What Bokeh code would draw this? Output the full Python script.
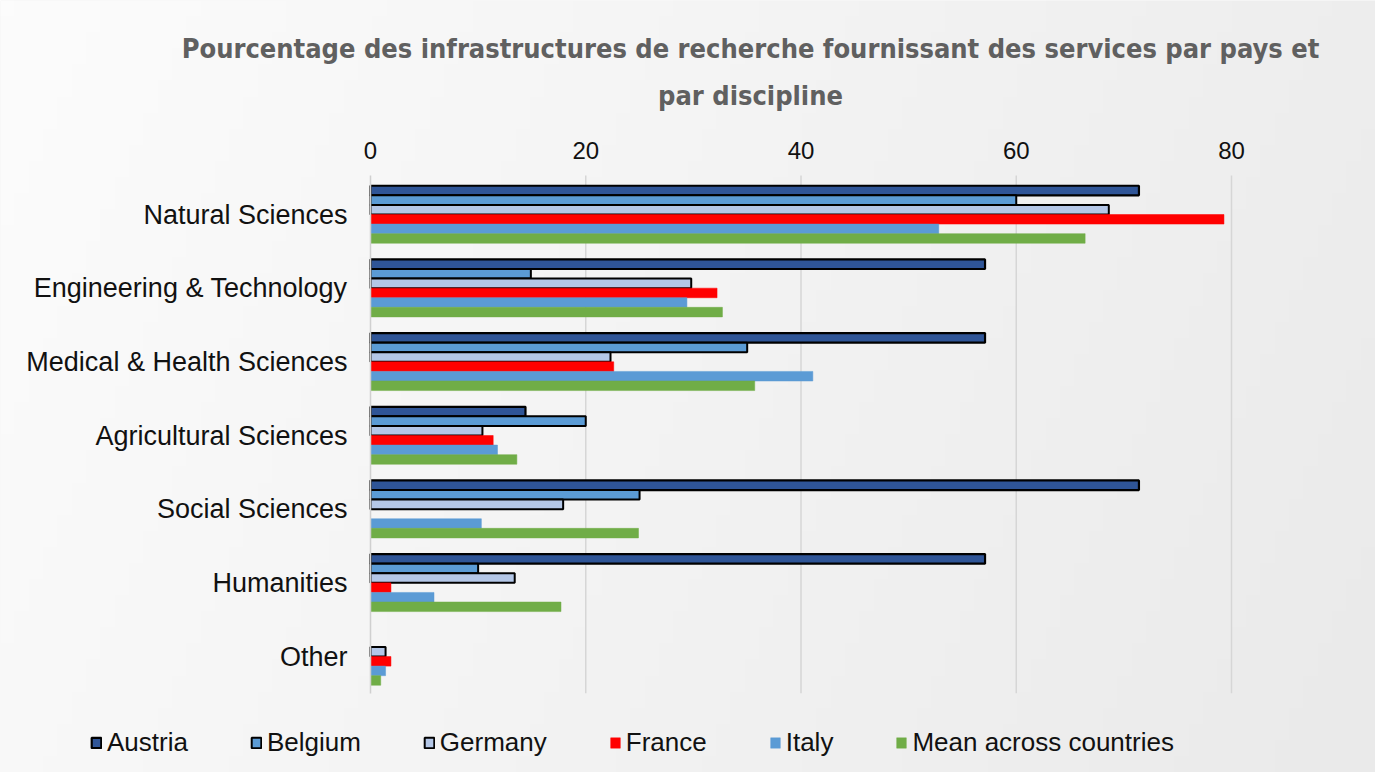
import numpy as np
from bokeh.plotting import figure
from bokeh.models import (ColumnDataSource, Range1d, FixedTicker,
                          Legend, LegendItem, Label)
from bokeh.transform import dodge
from bokeh.embed import file_html
from bokeh.resources import INLINE

# ---- data ----
categories = ["Natural Sciences", "Engineering & Technology", "Medical & Health Sciences",
              "Agricultural Sciences", "Social Sciences", "Humanities", "Other"]
austria = [71.4, 57.1, 57.1, 14.4, 71.4, 57.1, None]
belgium = [60.0, 14.9, 35.0, 20.0, 25.0, 10.0, None]
germany = [68.6, 29.8, 22.3, 10.4, 17.9, 13.4, 1.4]
france = [79.3, 32.2, 22.6, 11.4, None, 1.9, 1.9]
italy = [52.8, 29.4, 41.1, 11.8, 10.3, 5.9, 1.4]
mean_all = [66.4, 32.7, 35.7, 13.6, 24.9, 17.7, 0.95]
series_names = ["Austria", "Belgium", "Germany", "France", "Italy", "Mean across countries"]
x_ticks = [0, 20, 40, 60, 80]
title_lines = ["Pourcentage des infrastructures de recherche fournissant des services par pays et",
               "par discipline"]

series_values = [austria, belgium, germany, france, italy, mean_all]
colors = ["#2F5597", "#5B9BD5", "#B4C7E7", "#FF0000", "#5B9BD5", "#70AD47"]
outlines = ["black", "black", "black", None, None, None]
outline_w = [2.2, 2.0, 2.0, 0, 0, 0]

BG = "#f2f2f2"
BG_LIGHT, BG_DARK = 252, 234     # grey levels of the background gradient
LABEL_FONT = "'Liberation Sans', Arial, sans-serif"
W, H = 1375, 772
X0_PX, PX_PER_X = 370.0, 861.0 / 80.0      # x=0 position and scale
Y0_PX, PX_PER_CAT = 214.0, 73.67           # first category centre and spacing

n_cat = len(categories)
idx = list(range(n_cat))
data = {"idx": idx}
keys = ["s%d" % i for i in range(len(series_names))]
for k, v in zip(keys, series_values):
    data[k] = [float("nan") if x is None else x for x in v]
source = ColumnDataSource(data)

x_range = Range1d(-X0_PX / PX_PER_X, (W - X0_PX) / PX_PER_X)
y_range = Range1d((H - Y0_PX) / PX_PER_CAT, -Y0_PX / PX_PER_CAT)   # reversed: first category on top

p = figure(width=W, height=H, x_range=x_range, y_range=y_range,
           x_axis_location="above",
           output_backend="svg", toolbar_location=None, title=None,
           min_border_left=0, min_border_right=0, min_border_top=0, min_border_bottom=0,
           background_fill_color=BG, border_fill_color=BG, outline_line_color=None)

# soft background gradient (lighter at top-left, darker at right)
gw, gh = 96, 48
gx = np.linspace(0, 1, gw)[None, :]
gy = np.linspace(0, 1, gh)[:, None]
t = np.clip(0.8 * gx + 0.2 * gy, 0, 1)
lev = (BG_LIGHT + (BG_DARK - BG_LIGHT) * t).astype(np.uint32)
img = (255 << 24) | (lev << 16) | (lev << 8) | lev
p.image_rgba(image=[img.astype(np.uint32)], x=x_range.start, y=y_range.end,
             dw=x_range.end - x_range.start, dh=y_range.start - y_range.end)

# gridlines restricted to the category block
g_lo, g_hi = -0.5 - 0.03, n_cat - 0.5
p.segment(x0=x_ticks[1:], x1=x_ticks[1:], y0=[g_lo] * (len(x_ticks) - 1),
          y1=[g_hi] * (len(x_ticks) - 1), line_color="#d6d6d6", line_width=1.5)

bar_h = 0.13
renderers = []
for i, k in enumerate(keys):
    off = (i - 2.5) * bar_h
    r = p.hbar(y=dodge("idx", off), right=k, left=0, height=bar_h,
               source=source, fill_color=colors[i],
               line_color=outlines[i] if outlines[i] else colors[i],
               line_width=outline_w[i] if outlines[i] else 0.5)
    renderers.append(r)

p.xgrid.grid_line_color = None
p.ygrid.grid_line_color = None

# x axis (top)
xa = p.xaxis[0]
xa.fixed_location = g_lo
xa.bounds = (0, 80)
xa.ticker = FixedTicker(ticks=x_ticks)
xa.axis_line_color = None
xa.major_tick_line_color = None
xa.minor_tick_line_color = None
xa.major_tick_out = 0
xa.major_tick_in = 0
xa.major_label_standoff = 16
xa.major_label_text_font = LABEL_FONT
xa.major_label_text_font_size = "24px"
xa.major_label_text_color = "#111111"

# y axis (categories)
ya = p.yaxis[0]
ya.fixed_location = 0
ya.bounds = (g_lo, g_hi)
ya.ticker = FixedTicker(ticks=idx)
ya.major_label_overrides = {i: c for i, c in zip(idx, categories)}
ya.axis_line_color = "#d0d0d0"
ya.axis_line_width = 1.5
ya.major_tick_line_color = None
ya.minor_tick_line_color = None
ya.major_tick_out = 0
ya.major_tick_in = 0
ya.major_label_standoff = 23
ya.major_label_text_font = LABEL_FONT
ya.major_label_text_font_size = "27px"
ya.major_label_text_color = "#111111"

# title
title_font = "'DejaVu Sans Condensed', 'Liberation Sans Narrow', sans-serif"
title_x = (750 - X0_PX) / PX_PER_X
for line, ypx in zip(title_lines, [48, 95]):
    p.add_layout(Label(x=title_x, y=(ypx - Y0_PX) / PX_PER_CAT, text=line,
                       text_align="center", text_baseline="middle",
                       text_font=title_font, text_font_style="bold",
                       text_font_size="27px", text_color="#606060"))

# legend
items = [LegendItem(label=n, renderers=[r]) for n, r in zip(series_names, renderers)]
legend = Legend(items=items, orientation="horizontal", location=(90, 14),
                label_text_font=LABEL_FONT, label_text_font_size="26px",
                label_text_color="#111111", label_height=26, label_standoff=5,
                glyph_width=12, glyph_height=13, spacing=62, padding=0, margin=0,
                background_fill_alpha=0, border_line_color=None)
p.add_layout(legend)

open("out.html", "w").write(file_html(p, INLINE))
